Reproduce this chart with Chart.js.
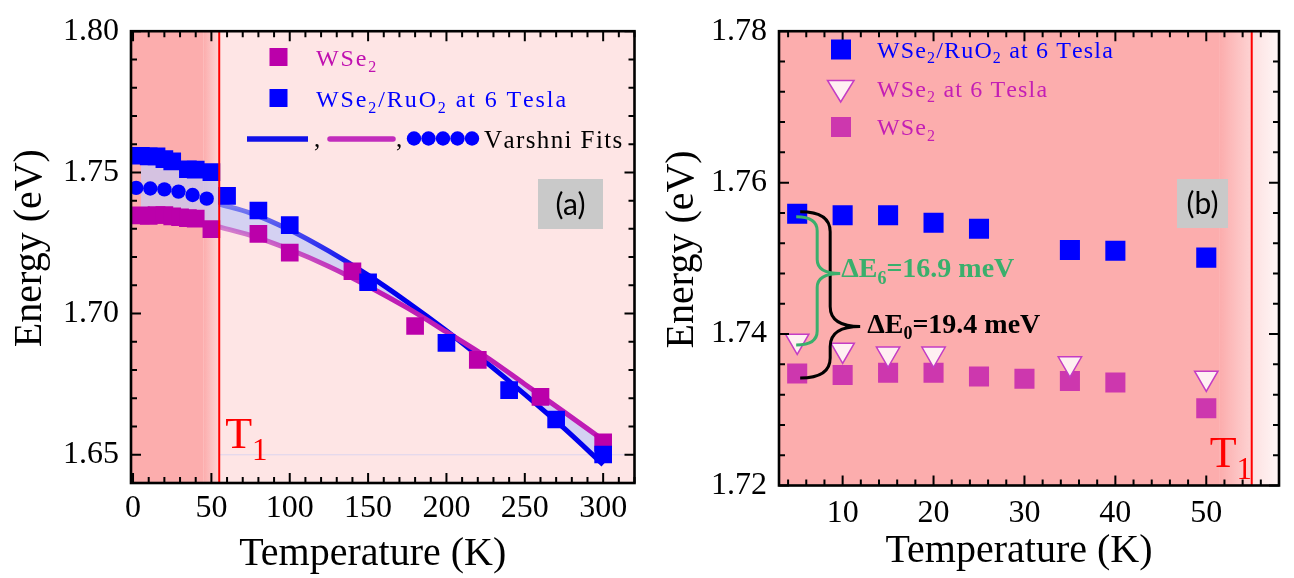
<!DOCTYPE html>
<html>
<head>
<meta charset="utf-8">
<script src="https://cdn.jsdelivr.net/npm/chart.js@4.4.1/dist/chart.umd.min.js"></script>
<style>
  html, body { margin: 0; padding: 0; background: #fff; }
  #wrap { position: relative; width: 1294px; height: 578px; }
  canvas { position: absolute; top: 0; }
</style>
</head>
<body>
<div id="wrap">
  <canvas id="chartA" width="647" height="578" style="left:0"></canvas>
  <canvas id="chartB" width="647" height="578" style="left:647px"></canvas>
</div>
<script>
// ---------- panel (a) data ----------
const tempA_ruo2   = [5, 10, 15, 20, 25, 35, 40, 50, 60, 80, 100, 150, 200, 240, 270, 300];
const energyA_ruo2 = [1.7559, 1.7557, 1.7557, 1.7547, 1.7539, 1.7511, 1.7510, 1.7501, 1.7417, 1.7365, 1.7313, 1.7111, 1.6896, 1.6729, 1.6625, 1.6501];
const tempA_wse2   = [5, 10, 15, 20, 25, 30, 35, 40, 50, 80, 100, 140, 180, 220, 260, 300];
const energyA_wse2 = [1.7348, 1.7346, 1.7349, 1.7349, 1.7344, 1.7341, 1.7338, 1.7336, 1.7299, 1.7282, 1.7216, 1.7150, 1.6956, 1.6836, 1.6705, 1.6544];
// dotted Varshni fit below T1
const tempA_dots   = [2, 11, 20, 29, 38, 47];
const energyA_dots = [1.7445, 1.7443, 1.7440, 1.7432, 1.7420, 1.7407];
// Varshni fit curves above T1
const tempA_fitBlue   = [55, 75, 100, 125, 150, 175, 200, 225, 250, 275, 300];
const energyA_fitBlue = [1.7388, 1.7356, 1.7296, 1.7221, 1.7136, 1.7041, 1.6939, 1.6829, 1.6714, 1.6594, 1.6465];
const tempA_fitMag    = [55, 75, 100, 125, 150, 175, 200, 225, 250, 275, 300];
const energyA_fitMag  = [1.7307, 1.7277, 1.7227, 1.7167, 1.7097, 1.7020, 1.6935, 1.6848, 1.6750, 1.6652, 1.6552];
// shaded band between the two data sets below T1
const tempA_band   = [5, 20, 35, 50, 55];
const bandA_top    = [1.7559, 1.7547, 1.7511, 1.7501, 1.7480];
const bandA_bottom = [1.7348, 1.7349, 1.7338, 1.7299, 1.7320];
const xTicksA = [0, 50, 100, 150, 200, 250, 300];
const yTicksA = [1.65, 1.70, 1.75, 1.80];

// ---------- panel (b) data ----------
const tempB_ruo2   = [5, 10, 15, 20, 25, 35, 40, 50];
const energyB_ruo2 = [1.7559, 1.7557, 1.7557, 1.7547, 1.7539, 1.7511, 1.7510, 1.7501];
const tempB_tesla  = [5, 10, 15, 20, 35, 50];
const energyB_tesla = [1.7391, 1.7379, 1.7374, 1.7374, 1.7361, 1.7342];
const tempB_wse2   = [5, 10, 15, 20, 25, 30, 35, 40, 50];
const energyB_wse2 = [1.7348, 1.7346, 1.7349, 1.7349, 1.7344, 1.7341, 1.7338, 1.7336, 1.7302];
const xTicksB = [10, 20, 30, 40, 50];
const yTicksB = [1.72, 1.74, 1.76, 1.78];

const T1 = 55;

const SERIF = '"Liberation Serif", "Times New Roman", serif';
const BLUE = '#0000ff';
const MAG_A = '#bb00aa';
const MAG_B = '#cd37ae';
const SALMON = '#fcadad';
const PINK = '#fee5e5';
const GREEN = '#3aaf6c';

const xy = (xs, ys) => xs.map((x, i) => ({ x, y: ys[i] }));

// titles carry a little padding whitespace so they sit where the original ones do
function xAxis(min, max, ticks, height, labelPad, titlePad) {
  return {
    type: 'linear', min, max,
    afterBuildTicks: s => { s.ticks = ticks.map(v => ({ value: v })); },
    afterFit: s => { s.height = height; },
    grid: { display: false, drawTicks: false },
    border: { display: false },
    ticks: { color: '#000', font: { family: SERIF, size: 32 }, padding: labelPad,
             maxRotation: 0, autoSkip: false, callback: v => String(v) },
    title: { display: true, text: 'Temperature (K)  ', color: '#000',
             font: { family: SERIF, size: 40 }, padding: { top: 0, bottom: titlePad } }
  };
}

function yAxis(min, max, ticks, width, titlePad) {
  return {
    type: 'linear', min, max,
    afterBuildTicks: s => { s.ticks = ticks.map(v => ({ value: v })); },
    afterFit: s => { s.width = width; },
    grid: { display: false, drawTicks: false },
    border: { display: false },
    ticks: { color: '#000', font: { family: SERIF, size: 32 }, padding: 12,
             callback: v => v.toFixed(2) },
    title: { display: true, text: ' \u2009Energy (eV)', color: '#000',
             font: { family: SERIF, size: 40 }, padding: { top: titlePad, bottom: 0 } }
  };
}

// inward ticks on all four sides + frame
function drawFrame(chart, xMajor, xStep, yMajor, yStep) {
  const { ctx, chartArea: a, scales: { x, y } } = chart;
  const isMajor = (v, list, step) => list.some(m => Math.abs(m - v) < step / 10);
  ctx.save();
  ctx.strokeStyle = '#000';
  ctx.lineWidth = 2;
  ctx.beginPath();
  const x0 = Math.ceil(x.min / xStep - 1e-9) * xStep;
  for (let i = 0; x0 + i * xStep <= x.max + 1e-9; i++) {
    const v = x0 + i * xStep, px = x.getPixelForValue(v);
    const len = isMajor(v, xMajor, xStep) ? 10 : 6;
    ctx.moveTo(px, a.bottom); ctx.lineTo(px, a.bottom - len);
    ctx.moveTo(px, a.top); ctx.lineTo(px, a.top + len);
  }
  const y0 = Math.ceil(y.min / yStep - 1e-9) * yStep;
  for (let i = 0; y0 + i * yStep <= y.max + 1e-9; i++) {
    const v = y0 + i * yStep, py = y.getPixelForValue(v);
    const len = isMajor(v, yMajor, yStep) ? 10 : 6;
    ctx.moveTo(a.left, py); ctx.lineTo(a.left + len, py);
    ctx.moveTo(a.right, py); ctx.lineTo(a.right - len, py);
  }
  ctx.stroke();
  ctx.lineWidth = 2.6;
  ctx.strokeRect(a.left, a.top, a.right - a.left, a.bottom - a.top);
  ctx.restore();
}

// text with subscripts: parts = [[text, isSub], ...], drawn char by char with extra spacing
function rich(ctx, parts, x, y, size, color, bold, spacing = 0) {
  let cx = x;
  ctx.fillStyle = color;
  ctx.textBaseline = 'alphabetic';
  ctx.textAlign = 'left';
  for (const [t, sub] of parts) {
    const fs = sub ? Math.round(size * 0.66) : size;
    ctx.font = (bold ? 'bold ' : '') + fs + 'px ' + SERIF;
    for (const ch of t) {
      ctx.fillText(ch, cx, sub ? y + size * 0.24 : y);
      cx += ctx.measureText(ch).width + spacing;
    }
  }
  return cx;
}

function labelBox(ctx, text, x, y, w, h) {
  ctx.fillStyle = '#c9c9c9';
  ctx.fillRect(x, y, w, h);
  ctx.fillStyle = '#000';
  ctx.font = '30px Lato, "Open Sans", sans-serif';
  ctx.textAlign = 'center';
  ctx.textBaseline = 'middle';
  ctx.fillText(text, x + w / 2, y + h / 2 + 1);
}

function drawT1(ctx, x, y) {
  ctx.fillStyle = '#ff0000';
  ctx.textAlign = 'left';
  ctx.textBaseline = 'alphabetic';
  ctx.font = '44px ' + SERIF;
  ctx.fillText('T', x, y);
  const w = ctx.measureText('T').width;
  ctx.font = '31px ' + SERIF;
  ctx.fillText('1', x + w, y + 12);
}

function brace(ctx, xEnd, yTop, yBot, xStem, xTip, yTip, r, color) {
  ctx.save();
  ctx.strokeStyle = color;
  ctx.lineWidth = 3;
  ctx.beginPath();
  ctx.moveTo(xEnd, yTop);
  ctx.quadraticCurveTo(xStem, yTop, xStem, yTop + r);
  ctx.lineTo(xStem, yTip - r);
  ctx.quadraticCurveTo(xStem, yTip, xTip, yTip);
  ctx.quadraticCurveTo(xStem, yTip, xStem, yTip + r);
  ctx.lineTo(xStem, yBot - r);
  ctx.quadraticCurveTo(xStem, yBot, xEnd, yBot);
  ctx.stroke();
  ctx.restore();
}

function fadeStroke(from, to, c0, c1) {
  return c => {
    const ch = c.chart;
    if (!ch.chartArea) return c1;
    const xs = ch.scales.x;
    const g = ch.ctx.createLinearGradient(xs.getPixelForValue(from), 0, xs.getPixelForValue(to), 0);
    g.addColorStop(0, c0);
    g.addColorStop(1, c1);
    return g;
  };
}

// ---------- panel (a) ----------
const panelA = {
  id: 'panelA',
  beforeDatasetsDraw(chart) {
    const { ctx, chartArea: a, scales: { x, y } } = chart;
    ctx.save();
    ctx.fillStyle = PINK;
    ctx.fillRect(a.left, a.top, a.right - a.left, a.bottom - a.top);
    const x45 = x.getPixelForValue(45), x55 = x.getPixelForValue(T1);
    ctx.fillStyle = SALMON;
    ctx.fillRect(a.left, a.top, x45 - a.left, a.bottom - a.top);
    const g = ctx.createLinearGradient(x45, 0, x55, 0);
    g.addColorStop(0, SALMON);
    g.addColorStop(1, '#fdd6d6');
    ctx.fillStyle = g;
    ctx.fillRect(x45, a.top, x55 - x45, a.bottom - a.top);
    // faint reference line at 1.65 eV
    ctx.strokeStyle = '#dcd4ee';
    ctx.lineWidth = 1;
    ctx.beginPath();
    ctx.moveTo(x55, y.getPixelForValue(1.65));
    ctx.lineTo(a.right, y.getPixelForValue(1.65));
    ctx.stroke();
    ctx.restore();
  },
  afterDatasetsDraw(chart) {
    const { ctx, chartArea: a, scales: { x } } = chart;
    ctx.save();
    const x55 = x.getPixelForValue(T1);
    ctx.strokeStyle = '#ff0000';
    ctx.lineWidth = 2;
    ctx.beginPath();
    ctx.moveTo(x55, a.top); ctx.lineTo(x55, a.bottom);
    ctx.stroke();
    drawT1(ctx, x55 + 6, 448);
    ctx.restore();
    drawFrame(chart, xTicksA, 10, yTicksA, 0.01);

    ctx.save();
    // legend
    ctx.fillStyle = MAG_A;
    ctx.fillRect(269.5, 48, 18, 18);
    rich(ctx, [['WSe', 0], ['2', 1]], 316, 66, 24, '#c010b0', false, 1.9);
    ctx.fillStyle = BLUE;
    ctx.fillRect(269.5, 89, 18, 18);
    rich(ctx, [['WSe', 0], ['2', 1], ['/RuO', 0], ['2', 1], [' at 6 Tesla', 0]], 316, 107, 24, BLUE, false, 1.9);
    ctx.lineCap = 'butt';
    ctx.lineWidth = 5.5;
    ctx.strokeStyle = '#1010e8';
    ctx.beginPath(); ctx.moveTo(247, 139); ctx.lineTo(308, 139); ctx.stroke();
    ctx.lineCap = 'round';
    ctx.strokeStyle = '#c22cbc';
    ctx.beginPath(); ctx.moveTo(330, 139); ctx.lineTo(393, 139); ctx.stroke();
    ctx.fillStyle = '#000';
    ctx.font = '25px ' + SERIF;
    ctx.textBaseline = 'alphabetic';
    ctx.fillText(',', 314, 147);
    ctx.fillText(',', 396, 147);
    ctx.fillStyle = BLUE;
    [414, 428.5, 443, 457.5, 472].forEach(cx => {
      ctx.beginPath(); ctx.arc(cx, 138.5, 7.2, 0, Math.PI * 2); ctx.fill();
    });
    rich(ctx, [['Varshni Fits', 0]], 484, 147.5, 25, '#000', false, 1.4);
    labelBox(ctx, '(a)', 538, 179, 65, 50);
    ctx.restore();
  }
};

new Chart(document.getElementById('chartA'), {
  type: 'scatter',
  data: {
    datasets: [
      { label: 'WSe2/RuO2 at 6 Tesla', data: xy(tempA_ruo2, energyA_ruo2), order: 0,
        pointStyle: 'rect', pointRadius: 12.5, backgroundColor: BLUE, borderWidth: 0 },
      { label: 'WSe2', data: xy(tempA_wse2, energyA_wse2), order: 1,
        pointStyle: 'rect', pointRadius: 12.5, backgroundColor: MAG_A, borderWidth: 0 },
      { label: 'Varshni fit (dots)', data: xy(tempA_dots, energyA_dots), order: 2,
        pointStyle: 'circle', pointRadius: 7.2, backgroundColor: BLUE, borderWidth: 0 },
      { label: 'Varshni fit RuO2', data: xy(tempA_fitBlue, energyA_fitBlue), order: 4,
        showLine: true, cubicInterpolationMode: 'monotone', pointRadius: 0, borderWidth: 5,
        borderColor: fadeStroke(60, 150, 'rgba(80,90,240,0.7)', '#0000ee'),
        fill: '+1', backgroundColor: 'rgba(198,202,245,0.75)' },
      { label: 'Varshni fit WSe2', data: xy(tempA_fitMag, energyA_fitMag), order: 3,
        showLine: true, cubicInterpolationMode: 'monotone', pointRadius: 0, borderWidth: 5,
        borderColor: fadeStroke(60, 150, 'rgba(190,70,190,0.65)', '#bf1db5') },
      { label: 'band top', data: xy(tempA_band, bandA_top), order: 6,
        showLine: true, pointRadius: 0, borderWidth: 0, borderColor: 'rgba(0,0,0,0)',
        fill: '+1', backgroundColor: 'rgba(198,202,245,0.72)' },
      { label: 'band bottom', data: xy(tempA_band, bandA_bottom), order: 6,
        showLine: true, pointRadius: 0, borderWidth: 0, borderColor: 'rgba(0,0,0,0)' }
    ]
  },
  options: {
    responsive: false,
    animation: false,
    events: [],
    layout: { padding: { top: 22, right: 12, left: 0, bottom: 0 } },
    plugins: { legend: { display: false }, tooltip: { enabled: false } },
    scales: {
      x: xAxis(-1.3, 320, xTicksA, 95, 6, 0),
      y: yAxis(1.64, 1.80, yTicksA, 131, 6)
    }
  },
  plugins: [panelA]
});

// ---------- panel (b) ----------
const panelB = {
  id: 'panelB',
  beforeDatasetsDraw(chart) {
    const { ctx, chartArea: a, scales: { x } } = chart;
    ctx.save();
    const xs = x.getPixelForValue(51.5), x55 = x.getPixelForValue(T1);
    ctx.fillStyle = SALMON;
    ctx.fillRect(a.left, a.top, xs - a.left, a.bottom - a.top);
    let g = ctx.createLinearGradient(xs, 0, x55, 0);
    g.addColorStop(0, SALMON);
    g.addColorStop(1, '#fdd3d3');
    ctx.fillStyle = g;
    ctx.fillRect(xs, a.top, x55 - xs, a.bottom - a.top);
    g = ctx.createLinearGradient(x55, 0, a.right, 0);
    g.addColorStop(0, '#fde0e0');
    g.addColorStop(1, '#fff6f6');
    ctx.fillStyle = g;
    ctx.fillRect(x55, a.top, a.right - x55, a.bottom - a.top);
    ctx.restore();
  },
  afterDatasetsDraw(chart) {
    const { ctx, chartArea: a, scales: { x, y } } = chart;
    ctx.save();
    const x55 = x.getPixelForValue(T1);
    ctx.strokeStyle = '#ff0000';
    ctx.lineWidth = 2;
    ctx.beginPath();
    ctx.moveTo(x55, a.top); ctx.lineTo(x55, a.bottom);
    ctx.stroke();
    drawT1(ctx, x55 - 42, 467);

    // energy splittings at 5 K
    const x5 = x.getPixelForValue(tempB_ruo2[0]);
    const yBlue = y.getPixelForValue(energyB_ruo2[0]);
    const yTri = y.getPixelForValue(energyB_tesla[0]);
    const yMag = y.getPixelForValue(energyB_wse2[0]);
    const yTip0 = 326.5, yTip6 = 273.5;
    brace(ctx, x5 + 3, yBlue - 2, yMag + 4.5, x5 + 33, x5 + 63, yTip0, 20, '#000');
    brace(ctx, x5 - 1, yBlue + 3, yTri + 4, x5 + 20, x5 + 43, yTip6, 14, GREEN);
    rich(ctx, [['ΔE', 0], ['6', 1], ['=16.9 meV', 0]], x5 + 44, yTip6 + 3.5, 28, GREEN, true);
    rich(ctx, [['ΔE', 0], ['0', 1], ['=19.4 meV', 0]], x5 + 70, yTip0 + 6, 28, '#000', true);
    ctx.restore();

    drawFrame(chart, xTicksB, 2, yTicksB, 0.004);

    ctx.save();
    // legend
    ctx.fillStyle = BLUE;
    ctx.fillRect(184, 39.5, 20, 20);
    rich(ctx, [['WSe', 0], ['2', 1], ['/RuO', 0], ['2', 1], [' at 6 Tesla', 0]], 230, 57.5, 24, BLUE, false, 1.15);
    ctx.beginPath();
    ctx.moveTo(180.5, 80.5); ctx.lineTo(207, 80.5); ctx.lineTo(193.7, 102); ctx.closePath();
    ctx.fillStyle = '#fff0f2'; ctx.fill();
    ctx.strokeStyle = '#c43cc4'; ctx.lineWidth = 1.5; ctx.stroke();
    rich(ctx, [['WSe', 0], ['2', 1], [' at 6 Tesla', 0]], 230, 96.5, 24, '#c41fb4', false, 1.15);
    ctx.fillStyle = MAG_B;
    ctx.fillRect(184, 117, 20, 20);
    rich(ctx, [['WSe', 0], ['2', 1]], 230, 135, 24, '#c41fb4', false, 1.15);
    labelBox(ctx, '(b)', 530, 179, 51, 49);
    ctx.restore();
  }
};

new Chart(document.getElementById('chartB'), {
  type: 'scatter',
  data: {
    datasets: [
      { label: 'WSe2 at 6 Tesla', data: xy(tempB_tesla, energyB_tesla), order: 0,
        pointStyle: 'triangle', rotation: 180, pointRadius: 13.5,
        backgroundColor: '#fff0f2', borderColor: '#c43cc4', borderWidth: 1.5 },
      { label: 'WSe2', data: xy(tempB_wse2, energyB_wse2), order: 1,
        pointStyle: 'rect', pointRadius: 14.2, backgroundColor: MAG_B, borderWidth: 0 },
      { label: 'WSe2/RuO2 at 6 Tesla', data: xy(tempB_ruo2, energyB_ruo2), order: 2,
        pointStyle: 'rect', pointRadius: 14.2, backgroundColor: BLUE, borderWidth: 0 }
    ]
  },
  options: {
    responsive: false,
    animation: false,
    events: [],
    layout: { padding: { top: 20, right: 8, left: 0, bottom: 0 } },
    plugins: { legend: { display: false }, tooltip: { enabled: false } },
    scales: {
      x: xAxis(3, 58, xTicksB, 92.5, 8.5, 2.5),
      y: yAxis(1.72, 1.78, yTicksB, 132, 11)
    }
  },
  plugins: [panelB]
});
</script>
</body>
</html>
